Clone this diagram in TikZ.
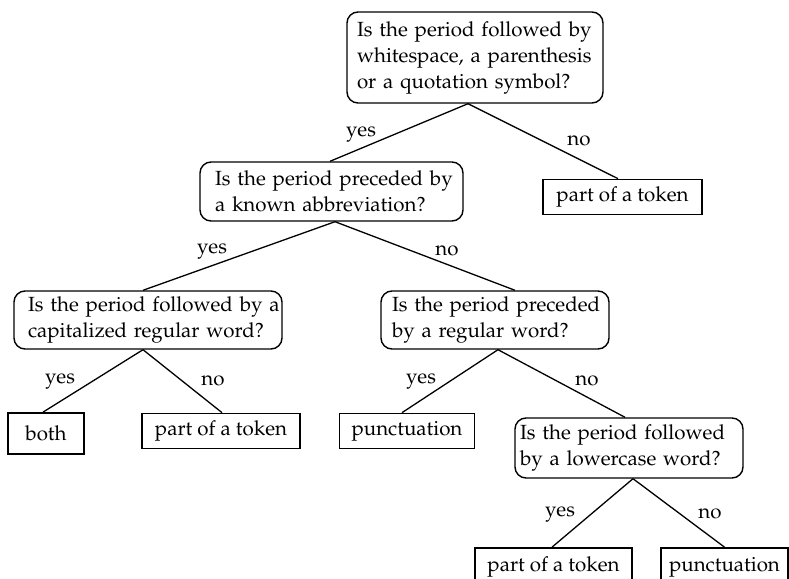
\documentclass[tikz,border=0pt]{standalone}
\usepackage[T1]{fontenc}
\usepackage{mathpazo}
\newcommand\qfont{\fontsize{20.5}{26}\selectfont}
\tikzset{
  question/.style={draw, rounded corners=11pt, line width=1.4pt, align=left,
                   inner ysep=0pt, font=\qfont},
  leaf/.style={draw, line width=1.7pt, inner sep=0pt, font=\qfont},
  branch/.style={line width=1.3pt},
  answer/.style={anchor=base, inner sep=0pt, font=\qfont},
}
\begin{document}
\begin{tikzpicture}[x=1pt, y=-1pt]
  \useasboundingbox (0,0) rectangle (789,578);

  % decision nodes
  \node[question, inner xsep=10pt, text width=236pt, minimum height=91pt] (q1) at (475,57.5)
    {\mbox{Is the period followed by}\\\mbox{whitespace, a parenthesis}\\\mbox{or a quotation symbol?}};
  \node[question, inner xsep=15pt, text width=233pt, minimum height=59pt] (q2) at (331.5,191.5)
    {\mbox{Is the period preceded by}\\\mbox{a known abbreviation?}};
  \node[question, inner xsep=14pt, text width=240pt, minimum height=58pt] (q3) at (148,320)
    {\mbox{Is the period followed by a}\\\mbox{capitalized regular word?}};
  \node[question, inner xsep=11pt, text width=206pt, minimum height=58pt] (q4) at (495,320)
    {\mbox{Is the period preceded}\\\mbox{by a regular word?}};
  \node[question, inner xsep=5pt, text width=218pt, minimum height=60pt] (q5) at (629,448)
    {\mbox{Is the period followed}\\\mbox{by a lowercase word?}};

  % outcomes
  \node[leaf, minimum width=159pt, minimum height=35pt] (t1) at (622.5,197) {part of a token};
  \node[leaf, minimum width=76pt,  minimum height=41pt] (b1) at (46,433.5) {both};
  \node[leaf, minimum width=158pt, minimum height=35pt] (t2) at (221,431) {part of a token};
  \node[leaf, minimum width=135pt, minimum height=35pt] (p1) at (407,431) {punctuation};
  \node[leaf, minimum width=157pt, minimum height=38pt] (t3) at (553.5,567) {part of a token};
  \node[leaf, minimum width=127pt, minimum height=38pt] (p2) at (724.5,567) {punctuation};

  % branches
  \draw[branch] ([xshift=-7pt]q1.south) -- ([xshift=-1.5pt]q2.north);
  \draw[branch] ([xshift=-7pt]q1.south) -- ([xshift=-4.5pt]t1.north);
  \draw[branch] ([xshift=3.5pt]q2.south) -- ([xshift=-5pt]q3.north);
  \draw[branch] ([xshift=3.5pt]q2.south) -- ([xshift=20pt]q4.north);
  \draw[branch] ([xshift=-5pt]q3.south) -- ([xshift=-3pt]b1.north);
  \draw[branch] ([xshift=-5pt]q3.south) -- ([xshift=1pt]t2.north);
  \draw[branch] ([xshift=3pt]q4.south) -- ([xshift=-5pt]p1.north);
  \draw[branch] ([xshift=3pt]q4.south) -- ([xshift=-4pt]q5.north);
  \draw[branch] ([xshift=4pt]q5.south) -- ([xshift=-1.5pt]t3.north);
  \draw[branch] ([xshift=4pt]q5.south) -- (p2.north);

  % branch labels
  \node[answer] (y1) at (361,136) {yes};
  \node[answer] (n1) at (579,145) {no};
  \node[answer] (y2) at (212,253) {yes};
  \node[answer] (n2) at (447,255) {no};
  \node[answer] (y3) at (60,383) {yes};
  \node[answer] (n3) at (213,385) {no};
  \node[answer] (y4) at (421,383) {yes};
  \node[answer] (n4) at (587,385) {no};
  \node[answer] (y5) at (560,516) {yes};
  \node[answer] (n5) at (710,518) {no};
\end{tikzpicture}
\end{document}
